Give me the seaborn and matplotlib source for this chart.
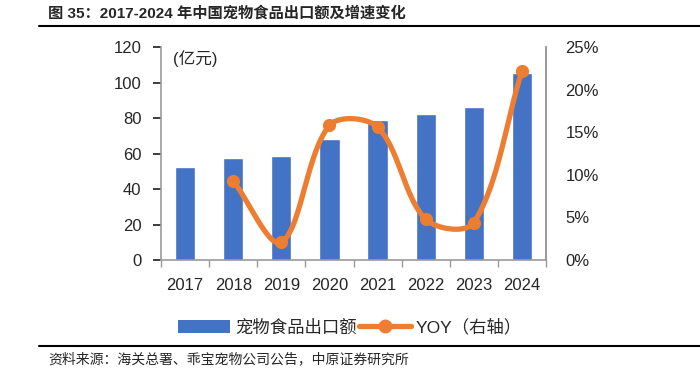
import numpy as np
import pandas as pd
import matplotlib
matplotlib.use("Agg")
import matplotlib.pyplot as plt
from matplotlib.lines import Line2D
from matplotlib.patches import Patch
from matplotlib.ticker import FuncFormatter
import seaborn as sns

# data
years = ["2017", "2018", "2019", "2020", "2021", "2022", "2023", "2024"]
export_value = [52.6, 57.5, 58.8, 68.2, 79.0, 82.3, 86.2, 105.5]   # 亿元
yoy = [None, 0.093, 0.021, 0.158, 0.156, 0.048, 0.044, 0.222]

bar_color = "#4472C4"
line_color = "#ED7D31"
grey = "#999999"
txt = "#262626"

sns.set_theme(style="white")
plt.rcParams["font.family"] = ["Liberation Sans", "Noto Sans CJK SC", "DejaVu Sans"]

fig = plt.figure(figsize=(7, 3.71), dpi=100)
ax = fig.add_axes([0.23, 0.299, 0.55, 0.574])

df = pd.DataFrame({"year": years, "value": export_value})
sns.barplot(data=df, x="year", y="value", color=bar_color, width=0.42,
            saturation=1, ax=ax)
ax.set_ylim(0, 120)
ax.set_yticks(range(0, 121, 20))
ax.set_xlim(-0.5, len(years) - 0.5)
ax.set_xlabel("")
ax.set_ylabel("")

# category boundary ticks on the bottom axis
ax.set_xticks(np.arange(-0.5, len(years), 1.0), minor=True)
ax.tick_params(axis="x", which="minor", bottom=True, length=5, width=1, color=grey)
ax.tick_params(axis="x", which="major", bottom=False, labelsize=12, pad=7,
               labelcolor=txt)
ax.tick_params(axis="y", left=False, labelsize=12, pad=8, labelcolor=txt)

ax.spines["top"].set_visible(False)
for side in ["left", "bottom", "right"]:
    ax.spines[side].set_color(grey)
    ax.spines[side].set_linewidth(1.2)

ax.text(0.03, 0.985, "(亿元)", transform=ax.transAxes, fontsize=12,
        va="top", ha="left", color=txt)

# right axis: smoothed YOY line (distance-weighted bezier, like Excel's smoothing)
ax2 = ax.twinx()
px = np.array([i for i, v in enumerate(yoy) if v is not None], dtype=float)
py = np.array([v for v in yoy if v is not None], dtype=float)
sx, sy = 48.0, 852.0  # approx screen scale: px per category, px per unit yoy
P = np.column_stack([px * sx, py * sy])
n = len(P)
cx, cy = [], []
t = np.linspace(0, 1, 50)[:, None]
for i in range(n - 1):
    p0 = P[i - 1] if i > 0 else P[i]
    p1, p2 = P[i], P[i + 1]
    p3 = P[i + 2] if i + 2 < n else P[i + 1]
    d01 = np.linalg.norm(p1 - p0)
    d12 = np.linalg.norm(p2 - p1)
    d23 = np.linalg.norm(p3 - p2)
    f1 = d12 / (d01 + d12) if d01 + d12 > 0 else 0
    f2 = d12 / (d12 + d23) if d12 + d23 > 0 else 0
    c1 = p1 + (p2 - p0) * f1 / 3
    c2 = p2 - (p3 - p1) * f2 / 3
    seg = ((1 - t) ** 3) * p1 + 3 * ((1 - t) ** 2) * t * c1 + 3 * (1 - t) * t ** 2 * c2 + t ** 3 * p2
    cx.extend(seg[:, 0] / sx)
    cy.extend(seg[:, 1] / sy)
curve = pd.DataFrame({"x": cx, "y": cy})
sns.lineplot(data=curve, x="x", y="y", sort=False, color=line_color,
             linewidth=3.8, ax=ax2)
sns.scatterplot(x=px, y=py, color=line_color, s=90, edgecolor=line_color,
                linewidth=0, zorder=5, ax=ax2)
ax2.set_ylim(0, 0.25)
ax2.set_yticks(np.arange(0, 0.26, 0.05))
ax2.yaxis.set_major_formatter(FuncFormatter(lambda v, _: f"{v*100:.0f}%"))
ax2.tick_params(axis="y", right=False, labelsize=12, pad=8, labelcolor=txt)
ax2.set_xlabel("")
ax2.set_ylabel("")
ax2.set_xlim(-0.5, len(years) - 0.5)
for side in ["top", "left", "bottom"]:
    ax2.spines[side].set_visible(False)
ax2.spines["right"].set_color(grey)
ax2.spines["right"].set_linewidth(1.2)

# legend
handles = [Patch(facecolor=bar_color, edgecolor="none", label="宠物食品出口额"),
           Line2D([0], [0], color=line_color, lw=3.8, marker="o", markersize=9,
                  label="YOY（右轴）")]
leg = fig.legend(handles=handles, loc="center", bbox_to_anchor=(0.5, 0.118), ncol=2,
                 frameon=False, fontsize=12.5, handlelength=3.0, handleheight=0.7,
                 columnspacing=0.1, handletextpad=0.3)
for text in leg.get_texts():
    text.set_color(txt)

# title and source
fig.text(0.069, 0.965, "图 35：2017-2024 年中国宠物食品出口额及增速变化",
         fontsize=11, fontweight="bold", va="center", ha="left")
fig.add_artist(Line2D([0.055, 1.0], [0.93, 0.93], color="black", lw=1.5))
fig.add_artist(Line2D([0.055, 1.0], [0.068, 0.068], color="black", lw=1.5))
fig.text(0.069, 0.033, "资料来源：海关总署、乖宝宠物公司公告，中原证券研究所",
         fontsize=10, va="center", ha="left")

fig.savefig("out.png", dpi=100)
